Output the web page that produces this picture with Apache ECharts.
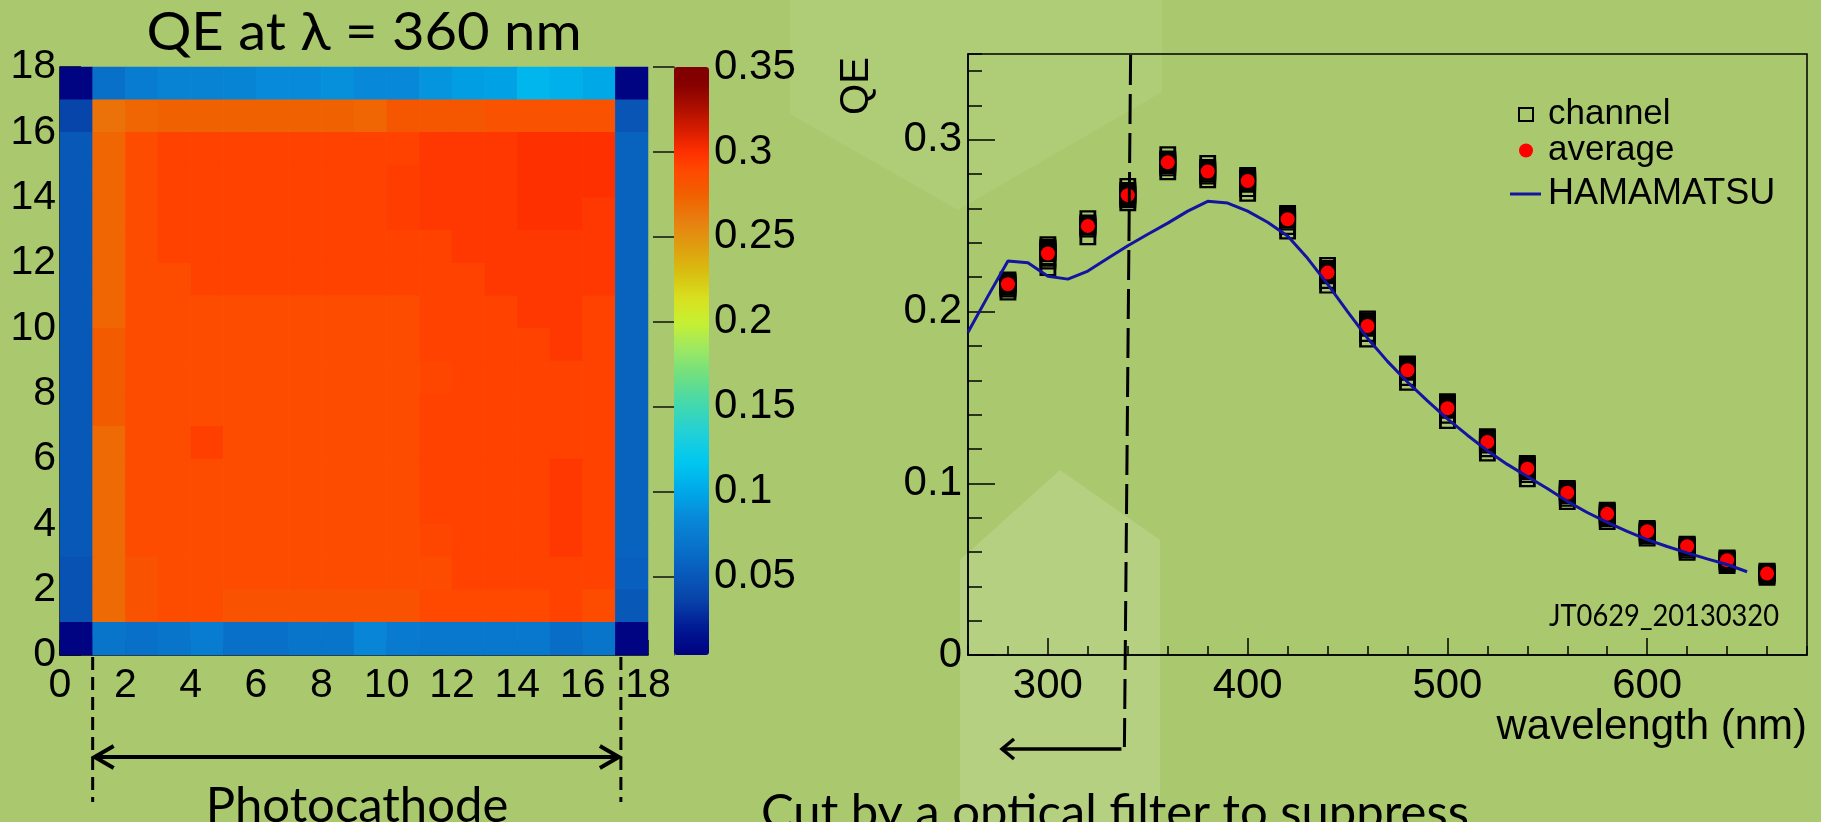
<!DOCTYPE html>
<html>
<head>
<meta charset="utf-8">
<script src="https://cdn.jsdelivr.net/npm/echarts@6/dist/echarts.min.js"></script>
<style>
  html, body { margin: 0; padding: 0; background: #aac96e; }
  #chart { width: 1821px; height: 822px; }
</style>
</head>
<body>
<div id="chart"></div>
<script>
// ---- QE map at 360 nm: rows from y = 17 (top) down to y = 0, columns x = 0..17 ----
const qeMapRows = [
  [0.006,0.066,0.075,0.080,0.080,0.081,0.085,0.085,0.088,0.084,0.084,0.090,0.095,0.097,0.108,0.105,0.100,0.006],
  [0.038,0.266,0.272,0.274,0.274,0.274,0.274,0.274,0.274,0.272,0.280,0.280,0.280,0.283,0.283,0.283,0.283,0.048],
  [0.050,0.272,0.287,0.292,0.292,0.292,0.292,0.292,0.292,0.292,0.292,0.297,0.297,0.297,0.300,0.300,0.300,0.057],
  [0.050,0.272,0.287,0.292,0.292,0.292,0.292,0.292,0.292,0.292,0.294,0.297,0.297,0.297,0.300,0.300,0.300,0.057],
  [0.050,0.272,0.287,0.292,0.292,0.292,0.292,0.292,0.292,0.292,0.294,0.297,0.297,0.297,0.300,0.300,0.297,0.057],
  [0.050,0.272,0.287,0.292,0.292,0.292,0.292,0.292,0.292,0.292,0.292,0.292,0.297,0.297,0.297,0.297,0.297,0.057],
  [0.050,0.272,0.287,0.287,0.292,0.292,0.292,0.292,0.292,0.292,0.292,0.292,0.292,0.297,0.297,0.297,0.297,0.057],
  [0.050,0.272,0.287,0.287,0.287,0.287,0.287,0.287,0.287,0.287,0.287,0.292,0.292,0.292,0.297,0.297,0.292,0.057],
  [0.050,0.278,0.287,0.287,0.287,0.287,0.287,0.287,0.287,0.287,0.287,0.292,0.292,0.292,0.292,0.297,0.292,0.057],
  [0.050,0.278,0.287,0.287,0.287,0.287,0.287,0.287,0.287,0.287,0.287,0.290,0.292,0.292,0.292,0.292,0.292,0.057],
  [0.050,0.278,0.287,0.287,0.287,0.287,0.287,0.287,0.287,0.287,0.287,0.292,0.292,0.292,0.292,0.292,0.292,0.057],
  [0.050,0.270,0.287,0.287,0.293,0.287,0.287,0.287,0.287,0.287,0.287,0.292,0.292,0.292,0.292,0.292,0.292,0.057],
  [0.050,0.270,0.287,0.287,0.287,0.287,0.287,0.287,0.287,0.287,0.287,0.292,0.292,0.292,0.292,0.297,0.292,0.057],
  [0.050,0.270,0.287,0.287,0.287,0.287,0.287,0.287,0.287,0.287,0.287,0.292,0.292,0.292,0.292,0.297,0.292,0.057],
  [0.050,0.270,0.287,0.287,0.287,0.287,0.287,0.287,0.287,0.287,0.287,0.290,0.292,0.292,0.292,0.297,0.292,0.057],
  [0.046,0.270,0.283,0.287,0.287,0.287,0.287,0.287,0.287,0.287,0.287,0.287,0.292,0.292,0.292,0.292,0.292,0.055],
  [0.046,0.270,0.283,0.287,0.287,0.283,0.283,0.283,0.283,0.283,0.283,0.289,0.289,0.289,0.289,0.292,0.287,0.050],
  [0.006,0.070,0.066,0.070,0.075,0.066,0.066,0.070,0.070,0.082,0.074,0.072,0.072,0.072,0.072,0.064,0.070,0.006]
];
const mapBins = Array.from({ length: 18 }, (_, i) => i);
const paletteMin = 0.0038;
const paletteMax = 0.35;
const paletteTicks = [0.05, 0.1, 0.15, 0.2, 0.25, 0.3, 0.35];

// ---- QE spectrum ----
const wavelengths = [280,300,320,340,360,380,400,420,440,460,480,500,520,540,560,580,600,620,640,660];
const averageQE = [0.2159,0.2338,0.2499,0.2678,0.2869,0.2816,0.2760,0.2538,0.2227,0.1916,0.1658,0.1437,0.1240,0.1085,0.0945,0.0822,0.0721,0.0633,0.0552,0.0474];
const channelQE = [
  [0.2195,0.2186,0.2178,0.2171,0.2164,0.2158,0.2152,0.2146,0.2139,0.2131,0.2120,0.2103],
  [0.2400,0.2386,0.2378,0.2371,0.2364,0.2357,0.2350,0.2343,0.2336,0.2326,0.2300,0.2284,0.2245],
  [0.2551,0.2527,0.2519,0.2512,0.2506,0.2500,0.2494,0.2488,0.2482,0.2470,0.2425],
  [0.2739,0.2716,0.2707,0.2699,0.2691,0.2684,0.2677,0.2670,0.2662,0.2652,0.2640,0.2623],
  [0.2924,0.2900,0.2892,0.2885,0.2878,0.2871,0.2864,0.2857,0.2849,0.2840,0.2826,0.2803],
  [0.2873,0.2850,0.2842,0.2835,0.2828,0.2821,0.2814,0.2807,0.2800,0.2790,0.2778,0.2757],
  [0.2803,0.2795,0.2786,0.2778,0.2771,0.2764,0.2757,0.2750,0.2742,0.2730,0.2705,0.2678],
  [0.2582,0.2574,0.2566,0.2558,0.2551,0.2544,0.2537,0.2530,0.2522,0.2510,0.2485,0.2458],
  [0.2279,0.2262,0.2254,0.2246,0.2239,0.2232,0.2225,0.2218,0.2210,0.2198,0.2170,0.2143],
  [0.1968,0.1958,0.1950,0.1942,0.1934,0.1927,0.1920,0.1913,0.1905,0.1893,0.1862,0.1829],
  [0.1706,0.1698,0.1690,0.1682,0.1675,0.1668,0.1661,0.1654,0.1646,0.1635,0.1605,0.1578],
  [0.1486,0.1478,0.1470,0.1462,0.1455,0.1448,0.1441,0.1434,0.1426,0.1414,0.1385,0.1355],
  [0.1282,0.1274,0.1266,0.1259,0.1252,0.1245,0.1238,0.1231,0.1223,0.1212,0.1190,0.1165],
  [0.1126,0.1118,0.1111,0.1104,0.1097,0.1090,0.1083,0.1076,0.1068,0.1058,0.1040,0.1015],
  [0.0980,0.0973,0.0966,0.0959,0.0952,0.0946,0.0940,0.0934,0.0927,0.0918,0.0902,0.0883],
  [0.0854,0.0847,0.0840,0.0834,0.0828,0.0822,0.0816,0.0810,0.0803,0.0795,0.0782,0.0767],
  [0.0747,0.0741,0.0735,0.0730,0.0725,0.0720,0.0715,0.0710,0.0704,0.0696,0.0684,0.0671],
  [0.0656,0.0651,0.0646,0.0641,0.0637,0.0633,0.0629,0.0624,0.0619,0.0612,0.0600,0.0588],
  [0.0576,0.0571,0.0566,0.0562,0.0558,0.0554,0.0550,0.0545,0.0540,0.0533,0.0522,0.0510],
  [0.0499,0.0494,0.0490,0.0486,0.0482,0.0478,0.0474,0.0470,0.0465,0.0459,0.0450,0.0442]
];
const hamamatsuWavelength = [260,270,280,290,300,310,320,330,340,350,360,370,380,390,400,410,420,430,440,450,460,470,480,490,500,510,520,530,540,550,560,570,580,590,600,610,620,630,640,650];
const hamamatsuQE = [0.188,0.209,0.2295,0.2284,0.2206,0.2189,0.2236,0.2310,0.2383,0.2450,0.2515,0.2585,0.2642,0.2632,0.2585,0.2520,0.2440,0.2310,0.2160,0.2000,0.1845,0.1710,0.1590,0.1480,0.1375,0.1280,0.1190,0.1110,0.1040,0.0970,0.0895,0.0830,0.0772,0.0720,0.0672,0.0632,0.0595,0.0560,0.0527,0.0485];
const wlMajorTicks = [300, 400, 500, 600];
const qeMajorTicks = [0, 0.1, 0.2, 0.3];
const filterCutNm = [341.4, 338.3];   // dashed cut line, top and bottom ends

// ---- colour palette (rainbow, dark blue -> dark red) ----
const paletteStops = [
  [0.004,'#000080'],[0.02,'#001a95'],[0.035,'#0840a8'],[0.05,'#0858b8'],[0.066,'#0870c8'],
  [0.084,'#0888d8'],[0.1,'#00a8e8'],[0.118,'#00c8f0'],[0.134,'#20d0d8'],[0.15,'#40d8b0'],
  [0.169,'#70e080'],[0.185,'#a0e860'],[0.2,'#c8f030'],[0.214,'#d8e020'],[0.228,'#d8c010'],
  [0.246,'#e09a10'],[0.259,'#e88010'],[0.275,'#f06000'],[0.289,'#ff4800'],[0.30,'#ff3000'],
  [0.31,'#e02000'],[0.325,'#b01000'],[0.34,'#850000'],[0.35,'#800000']
];
function hexToRgb(h) { return [1,3,5].map(i => parseInt(h.substr(i, 2), 16)); }
function paletteAt(v) {
  if (v <= paletteStops[0][0]) return paletteStops[0][1];
  for (let i = 1; i < paletteStops.length; i++) {
    if (v <= paletteStops[i][0]) {
      const [v0, c0] = paletteStops[i - 1], [v1, c1] = paletteStops[i];
      const t = (v - v0) / (v1 - v0), a = hexToRgb(c0), b = hexToRgb(c1);
      return 'rgb(' + a.map((x, k) => Math.round(x + (b[k] - x) * t)).join(',') + ')';
    }
  }
  return paletteStops[paletteStops.length - 1][1];
}
const paletteColors = [];
for (let i = 0; i <= 96; i++) paletteColors.push(paletteAt(paletteMin + (paletteMax - paletteMin) * i / 96));

// ---- series data built from the arrays above ----
const heatData = [];
qeMapRows.forEach((row, r) => row.forEach((v, x) => heatData.push([x, 17 - r, v])));
const channelPoints = [];
wavelengths.forEach((wl, i) => channelQE[i].forEach(v => channelPoints.push([wl, v])));
const averagePoints = wavelengths.map((wl, i) => [wl, averageQE[i]]);
const hamamatsuPoints = hamamatsuWavelength.map((wl, i) => [wl, hamamatsuQE[i]]);

const rootFont = '"Liberation Sans", Arial, sans-serif';
const slideFont = 'Lato, "Open Sans", sans-serif';
const black = '#000';
const navy = '#1414a0';

const chart = echarts.init(document.getElementById('chart'), null, { renderer: 'canvas' });

const option = {
  animation: false,
  backgroundColor: '#aac96e',
  grid: [
    { left: 60, top: 67, width: 588, height: 588 },
    { left: 674, top: 67, width: 35, height: 588 },
    { left: 968, top: 54, width: 839, height: 601, show: true, borderColor: black, borderWidth: 1.5, backgroundColor: 'transparent' }
  ],
  xAxis: [
    { type: 'category', gridIndex: 0, data: mapBins, show: false, position: 'bottom' },
    {
      type: 'value', gridIndex: 0, min: 0, max: 18, interval: 2, position: 'bottom',
      axisLine: { lineStyle: { color: black, width: 1.5 } },
      axisTick: { inside: true, length: 15, lineStyle: { color: black, width: 1.5 } },
      minorTick: { show: true, splitNumber: 2, length: 8, lineStyle: { color: black, width: 1.5 } },
      axisLabel: { color: black, fontFamily: rootFont, fontSize: 41, margin: 10, showMinLabel: true, showMaxLabel: true },
      splitLine: { show: false }
    },
    { type: 'value', gridIndex: 1, min: 0, max: 1, show: false },
    {
      type: 'value', gridIndex: 2, min: 260, max: 680, interval: 20, position: 'bottom',
      axisLine: { lineStyle: { color: black, width: 1.5 } },
      axisTick: { inside: true, length: 9, lineStyle: { color: black, width: 1.5 } },
      axisLabel: { show: false }, splitLine: { show: false }
    },
    {
      type: 'value', gridIndex: 2, min: 260, max: 680, position: 'bottom',
      axisLine: { show: false },
      axisTick: { inside: true, length: 17, customValues: wlMajorTicks, lineStyle: { color: black, width: 1.5 } },
      axisLabel: { customValues: wlMajorTicks, color: black, fontFamily: rootFont, fontSize: 42, margin: 10 },
      splitLine: { show: false }
    }
  ],
  yAxis: [
    { type: 'category', gridIndex: 0, data: mapBins, show: false, position: 'left' },
    {
      type: 'value', gridIndex: 0, min: 0, max: 18, interval: 2, position: 'left',
      axisLine: { show: true, lineStyle: { color: black, width: 1.5 } },
      axisTick: { show: true, inside: true, length: 21, lineStyle: { color: black, width: 1.5 } },
      minorTick: { show: true, splitNumber: 2, length: 10, lineStyle: { color: black, width: 1.5 } },
      axisLabel: { color: black, fontFamily: rootFont, fontSize: 41, margin: 4, showMinLabel: true, showMaxLabel: true },
      splitLine: { show: false }
    },
    {
      type: 'value', gridIndex: 1, min: paletteMin, max: paletteMax, position: 'right',
      axisLine: { show: true, lineStyle: { color: '#333', width: 1 } },
      axisTick: { show: true, inside: true, length: 21, customValues: paletteTicks, lineStyle: { color: '#111', width: 1.5 } },
      axisLabel: { customValues: paletteTicks, color: black, fontFamily: rootFont, fontSize: 42, margin: 5, formatter: v => String(v) },
      splitLine: { show: false }
    },
    {
      type: 'value', gridIndex: 2, min: 0, max: 0.35, interval: 0.02, position: 'left',
      axisLine: { show: true, lineStyle: { color: black, width: 1.5 } },
      axisTick: { show: true, inside: true, length: 14, lineStyle: { color: black, width: 1.5 } },
      axisLabel: { show: false }, splitLine: { show: false }
    },
    {
      type: 'value', gridIndex: 2, min: 0, max: 0.35, position: 'left',
      axisLine: { show: false },
      axisTick: { show: true, inside: true, length: 27, customValues: qeMajorTicks, lineStyle: { color: black, width: 1.5 } },
      axisLabel: { customValues: qeMajorTicks, color: black, fontFamily: rootFont, fontSize: 42, margin: 6, formatter: v => String(v) },
      splitLine: { show: false }
    }
  ],
  visualMap: {
    type: 'continuous', seriesIndex: 0, min: paletteMin, max: paletteMax,
    left: 674, top: 67, itemWidth: 35, itemHeight: 588, padding: 0,
    calculable: false, hoverLink: false, text: null,
    inRange: { color: paletteColors }
  },
  legend: [
    {
      data: ['channel'], left: 1518, top: 97, padding: 0, selectedMode: false,
      itemWidth: 14, itemHeight: 13,
      textStyle: { color: black, fontFamily: rootFont, fontSize: 35, padding: [0, 0, 0, 10] }
    },
    {
      data: ['average'], left: 1519, top: 133, padding: 0, selectedMode: false,
      itemWidth: 14, itemHeight: 14,
      textStyle: { color: black, fontFamily: rootFont, fontSize: 35, padding: [0, 0, 12, 10] }
    },
    {
      data: [{ name: 'HAMAMATSU', icon: 'rect' }], left: 1510, top: 176, padding: 0, selectedMode: false,
      itemWidth: 31, itemHeight: 3,
      textStyle: { color: black, fontFamily: rootFont, fontSize: 36, padding: [0, 0, 0, 2] }
    }
  ],
  series: [
    {
      type: 'heatmap', name: 'QE map', xAxisIndex: 0, yAxisIndex: 0, data: heatData,
      itemStyle: { borderWidth: 0 }, emphasis: { disabled: true }, progressive: 0
    },
    {
      type: 'scatter', name: 'channel', xAxisIndex: 3, yAxisIndex: 3, data: channelPoints,
      symbol: 'rect', symbolSize: [14, 11], z: 3,
      itemStyle: { color: 'rgba(0,0,0,0)', borderColor: black, borderWidth: 2.5, opacity: 1 },
      emphasis: { disabled: true }
    },
    {
      type: 'scatter', name: 'average', xAxisIndex: 3, yAxisIndex: 3, data: averagePoints,
      symbol: 'circle', symbolSize: 14, z: 4,
      itemStyle: { color: '#ff0000', opacity: 1 }, emphasis: { disabled: true }
    },
    {
      type: 'line', name: 'HAMAMATSU', xAxisIndex: 3, yAxisIndex: 3, data: hamamatsuPoints,
      showSymbol: false, symbol: 'none', z: 5,
      lineStyle: { color: navy, width: 3 }, itemStyle: { color: navy },
      emphasis: { disabled: true }
    }
  ]
};
chart.setOption(option);

// ---- annotations placed through the axes ----
const mapX = v => chart.convertToPixel({ xAxisIndex: 1 }, v);
const wlX = v => chart.convertToPixel({ xAxisIndex: 3 }, v);
const pcLeft = mapX(1), pcRight = mapX(17.17);
const cutTop = wlX(filterCutNm[0]), cutBottom = wlX(filterCutNm[1]);
const lineStyle = (w, dash) => ({ stroke: black, lineWidth: w, lineDash: dash || null, fill: null });

chart.setOption({
  graphic: [
    // soft lighter patches of the slide background
    { type: 'polygon', z: -10, silent: true, shape: { points: [[790,0],[1162,0],[1162,92],[958,210],[790,114]] }, style: { fill: 'rgba(255,255,255,0.06)' } },
    { type: 'polygon', z: -10, silent: true, shape: { points: [[960,560],[1060,470],[1160,540],[1160,822],[960,822]] }, style: { fill: 'rgba(255,255,255,0.13)' } },

    { type: 'text', x: 364, y: 33, scaleX: 1.06, style: { text: 'QE at λ = 360 nm', font: '53px ' + slideFont, fill: black, align: 'center', verticalAlign: 'middle' } },

    // photocathode span
    { type: 'line', shape: { x1: pcLeft, y1: 637, x2: pcLeft, y2: 802 }, style: lineStyle(3, [13, 7]) },
    { type: 'line', shape: { x1: pcRight, y1: 637, x2: pcRight, y2: 802 }, style: lineStyle(3, [13, 7]) },
    { type: 'line', shape: { x1: pcLeft + 2, y1: 757, x2: pcRight - 2, y2: 757 }, style: lineStyle(4) },
    { type: 'polyline', shape: { points: [[pcLeft + 21, 746], [pcLeft + 2, 757], [pcLeft + 21, 768]] }, style: lineStyle(4) },
    { type: 'polyline', shape: { points: [[pcRight - 21, 746], [pcRight - 2, 757], [pcRight - 21, 768]] }, style: lineStyle(4) },
    { type: 'text', x: 357, y: 806, style: { text: 'Photocathode', font: '49px ' + slideFont, fill: black, align: 'center', verticalAlign: 'middle' } },

    // axis titles of the spectrum
    { type: 'text', x: 857, y: 86, rotation: Math.PI / 2, style: { text: 'QE', font: '40px ' + rootFont, fill: black, align: 'center', verticalAlign: 'middle' } },
    { type: 'text', x: 1807, y: 727, style: { text: 'wavelength (nm)', font: '42px ' + rootFont, fill: black, align: 'right', verticalAlign: 'middle' } },
    { type: 'text', x: 1779, y: 616, scaleX: 0.88, style: { text: 'JT0629_20130320', font: '31px ' + slideFont, fill: black, align: 'right', verticalAlign: 'middle' } },

    // optical filter cut
    { type: 'line', z: 10, shape: { x1: cutTop, y1: 55, x2: cutBottom, y2: 747 }, style: lineStyle(3, [30, 9]) },
    { type: 'line', shape: { x1: cutBottom - 3, y1: 749, x2: 1003, y2: 749 }, style: lineStyle(3.5) },
    { type: 'polyline', shape: { points: [[1014, 739], [1002, 749], [1014, 759]] }, style: lineStyle(3.5) },
    { type: 'text', x: 761, y: 813, style: { text: 'Cut by a optical filter to suppress', font: '49px ' + slideFont, fill: black, align: 'left', verticalAlign: 'middle' } }
  ]
});
</script>
</body>
</html>
